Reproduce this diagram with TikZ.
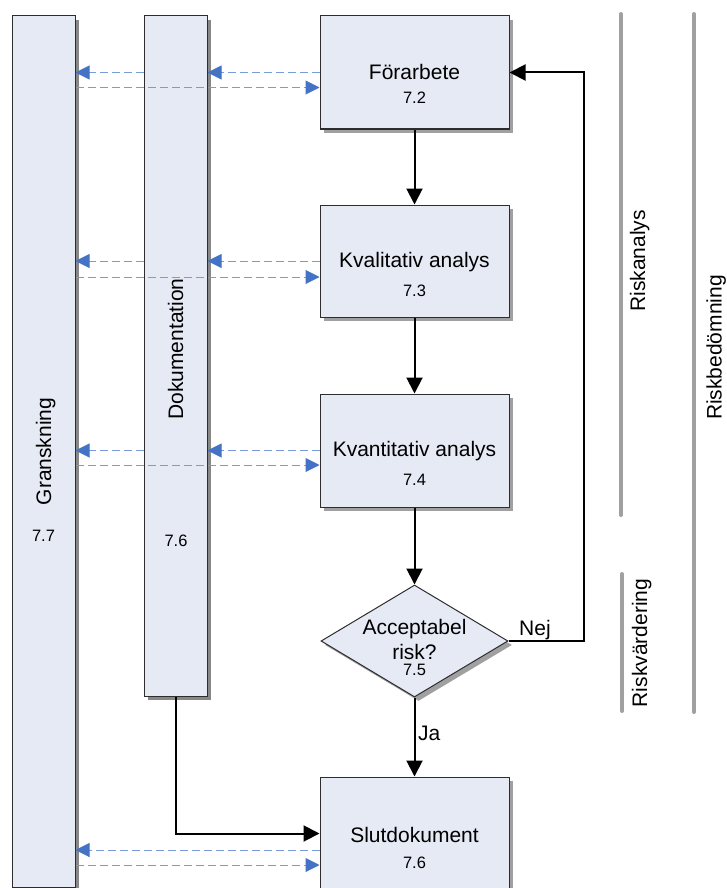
\documentclass[tikz,border=0pt]{standalone}
\usepackage{fontspec}
\setmainfont{Liberation Sans}
\usetikzlibrary{arrows.meta,shapes.geometric,shadows,calc}
\definecolor{panel}{RGB}{230,234,244}
\definecolor{edge}{RGB}{45,45,45}
\definecolor{shade}{RGB}{160,160,160}
\definecolor{barshade}{RGB}{135,135,135}
\definecolor{linkblue}{RGB}{120,155,220}
\definecolor{tipblue}{RGB}{68,114,196}
\definecolor{bracket}{RGB}{160,160,160}
\begin{document}
\begin{tikzpicture}[x=1pt,y=-1pt,
  stage/.style={rectangle, draw=edge, line width=1pt, fill=panel,
    minimum width=189pt, minimum height=113pt, inner sep=0pt,
    drop shadow={shadow xshift=4pt, shadow yshift=-4pt, fill=shade, opacity=1}},
  bar/.style={rectangle, draw=edge, line width=1pt, fill=panel,
    minimum width=63pt, inner sep=0pt,
    drop shadow={shadow xshift=4pt, shadow yshift=-4pt, fill=barshade, opacity=1}},
  decision/.style={diamond, draw=edge, line width=1pt, fill=panel,
    minimum width=187pt, minimum height=112pt, inner sep=0pt,
    drop shadow={shadow xshift=4pt, shadow yshift=-4pt, fill=shade, opacity=1}},
  big/.style={font=\fontsize{21}{25}\selectfont, inner sep=0pt, anchor=base},
  small/.style={font=\fontsize{16.5}{20}\selectfont, inner sep=0pt, anchor=base},
  flow/.style={line width=2pt, -{Triangle[length=16pt,width=16pt]}},
  link/.style={draw=linkblue, line width=1pt, dash pattern=on 8pt off 4pt,
    -{Triangle[length=14pt,width=14pt,color=tipblue]}},
  rule/.style={draw=bracket, line width=4pt, line cap=round}]
\useasboundingbox (0,0) rectangle (726,888);

% side bars
\node[bar, minimum height=871.5pt] (gr) at (43.5,451.75) {};
\node[bar, minimum height=680pt] (dok) at (175.5,356) {};
\node[big, rotate=90] (grtxt) at (51,451.5) {Granskning};
\node[small] (grnum) at (43.5,541) {7.7};
\node[big, rotate=90] (doktxt) at (183,349) {Dokumentation};
\node[small] (doknum) at (176,546) {7.6};

% process steps
\node[stage] (f) at (414.5,72.5) {};
\node[stage, minimum height=112pt] (k1) at (414.5,261) {};
\node[stage] (k2) at (414.5,450.5) {};
\node[decision] (dec) at (414.5,641) {};
\node[stage] (s) at (414.5,833.5) {};

\node[big] (ftxt) at (414.5,79.3) {Förarbete};
\node[small] (fnum) at (414.5,103.3) {7.2};
\node[big] (k1txt) at (414.5,267.7) {Kvalitativ analys};
\node[small] (k1num) at (414.5,296.7) {7.3};
\node[big] (k2txt) at (414.5,456.7) {Kvantitativ analys};
\node[small] (k2num) at (414.5,485.7) {7.4};
\node[big] (dtxt1) at (414.5,634) {Acceptabel};
\node[big] (dtxt2) at (414.5,659) {risk?};
\node[small] (dnum) at (414.5,675) {7.5};
\node[big] (stxt) at (414.5,842) {Slutdokument};
\node[small] (snum) at (414.5,868) {7.6};

% main flow
\draw[flow] (f.south) -- (k1.north);
\draw[flow] (k1.south) -- (k2.north);
\draw[flow] (k2.south) -- (dec.north);
\draw[flow] (dec.south) -- (s.north);
\draw[flow] (dec.east) -- ++(75,0) |- (f.east);
\draw[flow] (dok.south) |- (s.west);
\node[big, anchor=base west] (nej) at (519,635) {Nej};
\node[big, anchor=base west] (ja) at (418,740.5) {Ja};

% exchange with documentation and review
\foreach \n/\u/\l in {f/0/15, k1/0/16, k2/0/14.5}{
  \draw[link] ($(\n.west)+(0,\u)$) -- ($(\n.west -| dok.east)+(0,\u)$);
  \draw[link] ($(\n.west -| dok.west)+(0,\u)$) -- ($(\n.west -| gr.east)+(0,\u)$);
  \draw[link] ($(\n.west -| gr.east)+(0,\l)$) -- ($(\n.west)+(0,\l)$);
}
% below the documentation bar the links run straight to the review bar
\draw[link] ($(s.west)+(0,16.5)$) -- ($(s.west -| gr.east)+(0,16.5)$);
\draw[link] ($(s.west -| gr.east)+(0,31.5)$) -- ($(s.west)+(0,31.5)$);

% phase brackets
\draw[rule] (621,14) -- (621,515);
\draw[rule] (622,574) -- (622,711);
\draw[rule] (694,14) -- (694,712);
\node[big, rotate=90] (ra) at (645,261) {Riskanalys};
\node[big, rotate=90] (rv) at (647,643) {Riskvärdering};
\node[big, rotate=90] (rb) at (721.5,347.5) {Riskbedömning};
\end{tikzpicture}
\end{document}
